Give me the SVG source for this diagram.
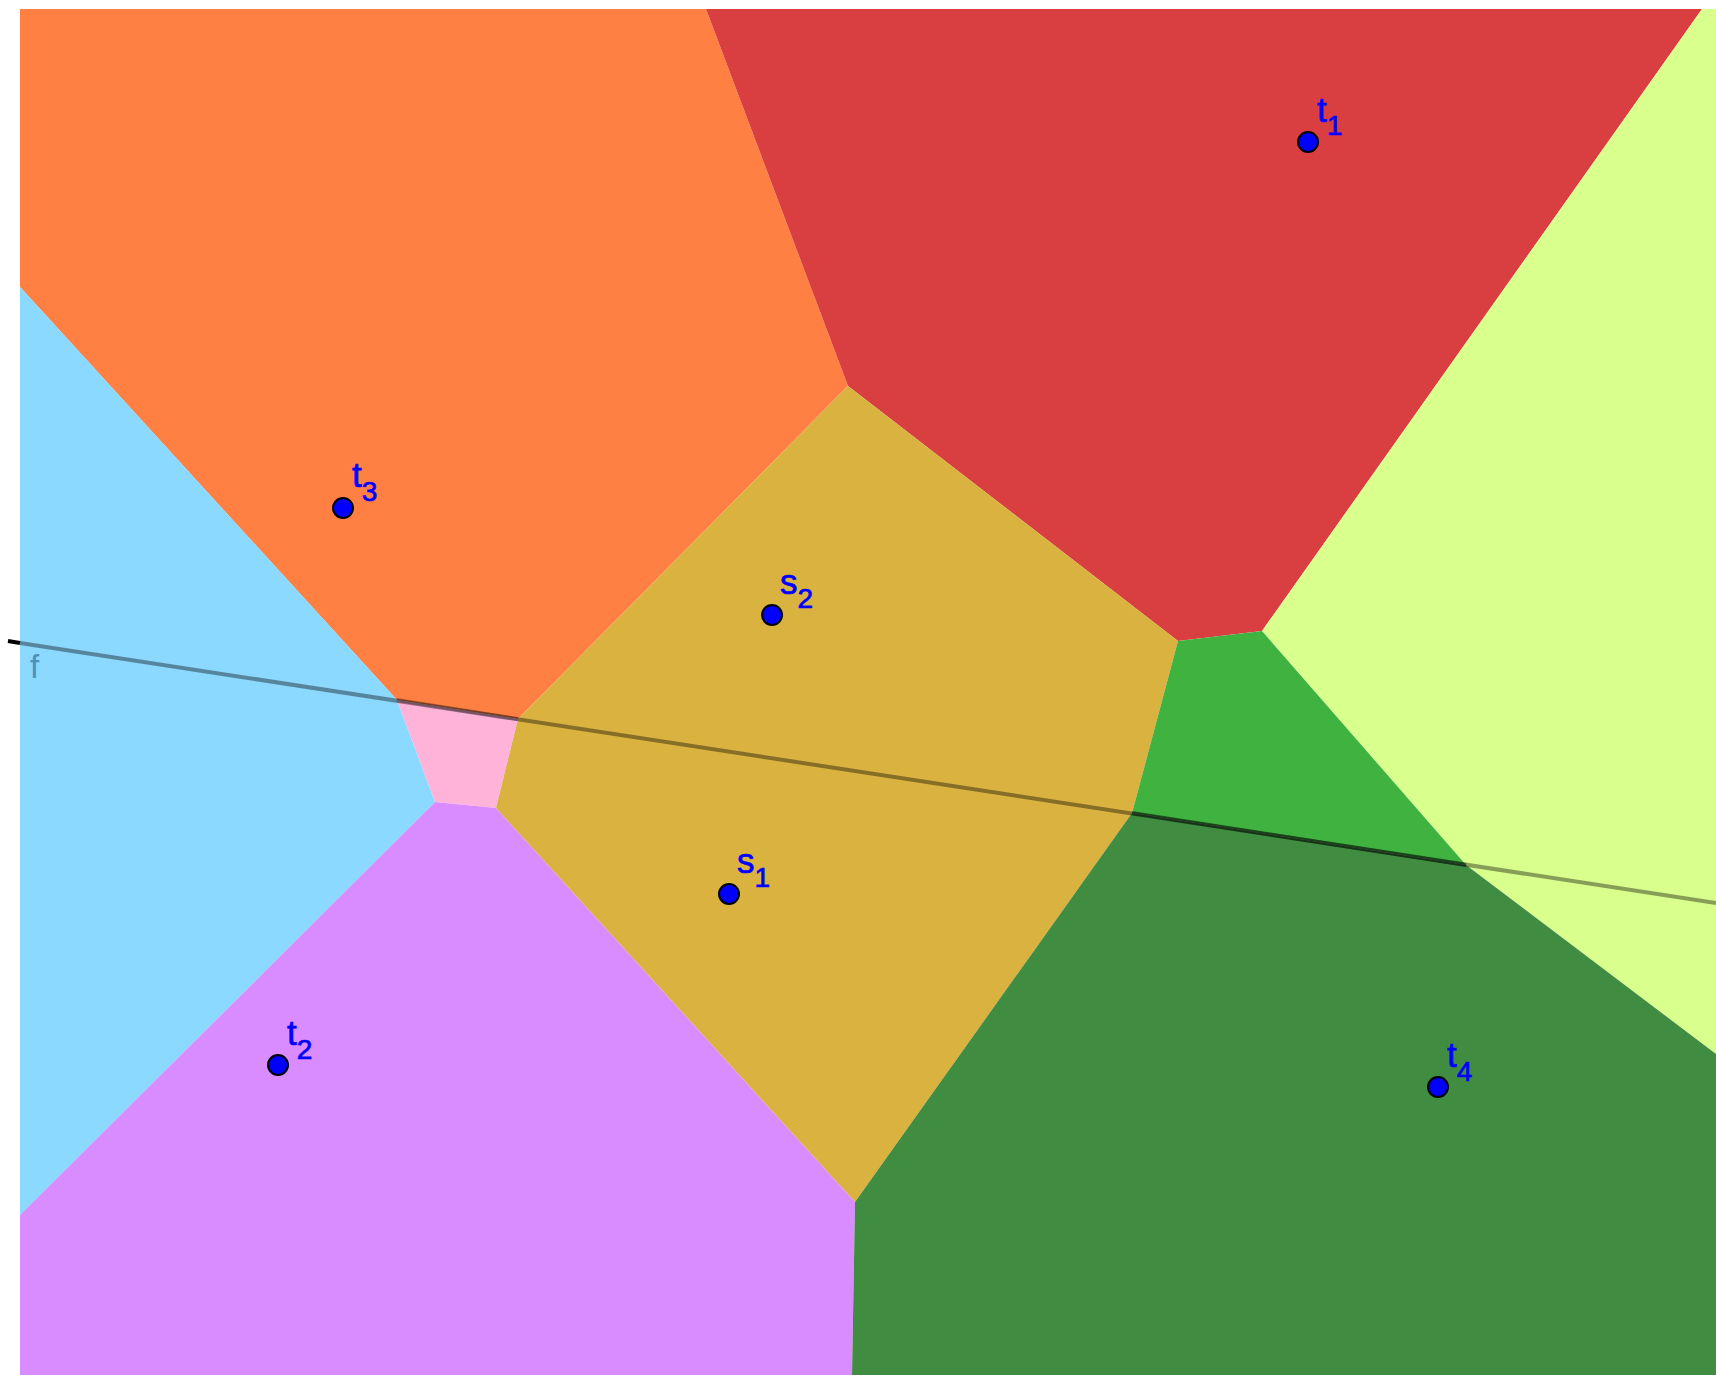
<svg xmlns="http://www.w3.org/2000/svg" width="1716" height="1375" viewBox="0 0 1716 1375">
<style>
.pt{fill:#0000FF;stroke:#000;stroke-width:2}
.lb{font-family:"Liberation Sans",Arial,sans-serif;font-size:35px;fill:#0000FF;stroke:#0000FF;stroke-width:0.7}
.sub{font-size:28px}
.f{fill:none;stroke:#000;stroke-width:4}
</style>
<rect width="1716" height="1375" fill="#ffffff"/>
<g id="regions">
<polygon id="orange" fill="#FF8042" points="20,9 706,9 848,386 518,719 397,700 20,287"/>
<polygon id="red" fill="#D93F40" points="706,9 1702,9 1262,631 1178,641 848,386"/>
<polygon id="yellowgreen" fill="#D9FF8C" points="1702,9 1716,9 1716,1054 1466,865 1262,631"/>
<polygon id="lightblue" fill="#8CD9FF" points="20,287 397,700 435,802 20,1215"/>
<polygon id="pink" fill="#FFB3D9" points="397,700 518,719 496,808 435,802"/>
<polygon id="purple" fill="#D98CFF" points="435,802 496,808 855,1202 852,1375 20,1375 20,1215"/>
<polygon id="gold" fill="#D9B240" points="848,386 1178,641 1132,813 855,1202 496,808 518,719"/>
<polygon id="green" fill="#40B240" points="1178,641 1262,631 1466,865 1132,813"/>
<polygon id="darkgreen" fill="#408C40" points="1132,813 1466,865 1716,1054 1716,1375 852,1375 855,1202"/>
</g>
<g id="connectors">
<line x1="8" y1="641" x2="20" y2="643" stroke="#000" stroke-width="4"/>
<line class="f" x1="20" y1="643" x2="1716" y2="903" stroke-opacity="0.38"/>
<line class="f" x1="397" y1="700" x2="518" y2="719" stroke-opacity="0.25"/>
<line class="f" x1="1132" y1="813" x2="1466" y2="865" stroke-opacity="0.4"/>
<text x="30" y="678" font-family="Liberation Sans,Arial,sans-serif" font-size="33" fill="#4F8FB8">f</text>
</g>
<g id="t1"><circle class="pt" cx="1308" cy="142" r="10"/><text class="lb" x="1317" y="122">t<tspan class="sub" dy="13">1</tspan></text></g>
<g id="t3"><circle class="pt" cx="343" cy="508" r="10"/><text class="lb" x="352" y="487">t<tspan class="sub" dy="14">3</tspan></text></g>
<g id="s2"><circle class="pt" cx="772" cy="615" r="10"/><text class="lb" x="780" y="594">s<tspan class="sub" dy="14">2</tspan></text></g>
<g id="s1"><circle class="pt" cx="729" cy="894" r="10"/><text class="lb" x="737" y="873">s<tspan class="sub" dy="14">1</tspan></text></g>
<g id="t2"><circle class="pt" cx="278" cy="1065" r="10"/><text class="lb" x="287" y="1045">t<tspan class="sub" dy="14">2</tspan></text></g>
<g id="t4"><circle class="pt" cx="1438" cy="1087" r="10"/><text class="lb" x="1447" y="1067">t<tspan class="sub" dy="14">4</tspan></text></g>
</svg>
